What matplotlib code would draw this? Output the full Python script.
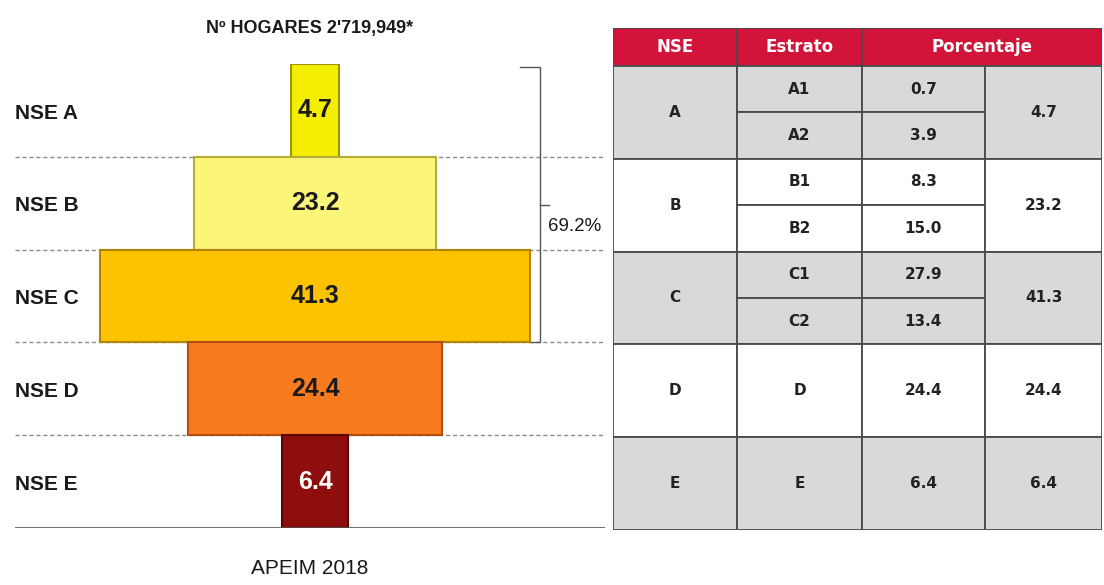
import numpy as np
import matplotlib.pyplot as plt
from matplotlib.patches import Rectangle

# datos NSE (APEIM 2018)
nse = ['A', 'B', 'C', 'D', 'E']
labels = ['NSE A', 'NSE B', 'NSE C', 'NSE D', 'NSE E']
pct = [4.7, 23.2, 41.3, 24.4, 6.4]
estratos = [['A1', 'A2'], ['B1', 'B2'], ['C1', 'C2'], ['D'], ['E']]
estrato_pct = [[0.7, 3.9], [8.3, 15.0], [27.9, 13.4], [24.4], [6.4]]
header = ['NSE', 'Estrato', 'Porcentaje']
titulo = "Nº HOGARES 2'719,949*"
fuente = 'APEIM 2018'

colors = ['#f4ee00', '#fbf57a', '#fdc300', '#f97b20', '#8e0d0d']
edges = ['#9c9400', '#b5ad3a', '#b38400', '#b44e0c', '#5a0505']
txt_colors = ['#1a1a1a', '#1a1a1a', '#1a1a1a', '#1a1a1a', 'white']

arial = ['Liberation Sans', 'DejaVu Sans']
tabfont = ['DejaVu Sans']

W, H = 1104, 585
fig = plt.figure(figsize=(W / 100, H / 100), dpi=100)


def px_axes(x0, y0, x1, y1):
    return fig.add_axes([x0 / W, 1 - y1 / H, (x1 - x0) / W, (y1 - y0) / H])


# ---- piramide ----
ax = px_axes(15, 64, 605, 528)
ax.set_xlim(-28.85, 27.88)
ax.set_ylim(len(pct), 0)
ax.axis('off')

ys = np.arange(len(pct)) + 0.5
lefts = [-p / 2 for p in pct]
ax.barh(ys, pct, left=lefts, height=1.0, color=colors, edgecolor=edges, linewidth=1.5, zorder=3)

for i in range(1, len(pct)):
    ax.axhline(i, color='#8a8a8a', lw=1, ls=(0, (3, 2)), zorder=1)
ax.axhline(len(pct), color='#555555', lw=1.2, zorder=4)

for y, lab, p, tc in zip(ys, labels, pct, txt_colors):
    ax.text(0.0, y + 0.03, lab, transform=ax.get_yaxis_transform(), ha='left', va='center',
            fontsize=15, fontweight='bold', family=arial, color='#1a1a1a')
    ax.text(0, y, f'{p:.1f}', ha='center', va='center', fontsize=18, fontweight='bold',
            family=arial, color=tc, zorder=5)

# llave del 69.2%
right_c = pct[2] / 2
xb = right_c + 1.0
ax.plot([xb - 1.9, xb, xb, right_c], [0.03, 0.03, 3, 3], color='#555555', lw=1, clip_on=False)
ax.plot([xb, xb + 0.8], [1.52, 1.52], color='#555555', lw=1, clip_on=False)
ax.text(xb + 0.75, 1.75, f'{sum(pct[:3]):.1f}%', ha='left', va='center', fontsize=13.5,
        family=arial, color='#1a1a1a', clip_on=False)

fig.text(310 / W, 1 - 28 / H, titulo, ha='center', va='center', fontsize=13,
         fontweight='bold', family=arial, color='#1a1a1a')
fig.text(310 / W, 1 - 568 / H, fuente, ha='center', va='center', fontsize=15,
         family=arial, color='#1a1a1a')

# ---- tabla ----
tx = px_axes(613, 28, 1102, 530)
cols = [0, 124, 249, 372, 489]
head_h = 38
grp_h = (502 - head_h) / len(nse)
tx.set_xlim(0, cols[-1])
tx.set_ylim(502, 0)
tx.axis('off')

line = '#4a4a4a'
red = '#d2143a'


def cell(x0, x1, y0, y1, fc, text=None, tc='#222222', size=11):
    tx.add_patch(Rectangle((x0, y0), x1 - x0, y1 - y0, facecolor=fc, edgecolor=line, lw=1.3))
    if text is not None:
        tx.text((x0 + x1) / 2, (y0 + y1) / 2, text, ha='center', va='center', fontsize=size,
                fontweight='bold', family=tabfont, color=tc)


cell(cols[0], cols[1], 0, head_h, red, header[0], 'white', 12)
cell(cols[1], cols[2], 0, head_h, red, header[1], 'white', 12)
cell(cols[2], cols[4], 0, head_h, red, header[2], 'white', 12)

for g, (n, sub, sub_p, p) in enumerate(zip(nse, estratos, estrato_pct, pct)):
    fc = '#d9d9d9' if g % 2 == 0 else 'white'
    y0 = head_h + g * grp_h
    y1 = y0 + grp_h
    cell(cols[0], cols[1], y0, y1, fc, n)
    sh = grp_h / len(sub)
    for k, (s, sp) in enumerate(zip(sub, sub_p)):
        cell(cols[1], cols[2], y0 + k * sh, y0 + (k + 1) * sh, fc, s)
        cell(cols[2], cols[3], y0 + k * sh, y0 + (k + 1) * sh, fc, f'{sp:.1f}')
    cell(cols[3], cols[4], y0, y1, fc, f'{p:.1f}')

fig.savefig('out.png', dpi=100)
